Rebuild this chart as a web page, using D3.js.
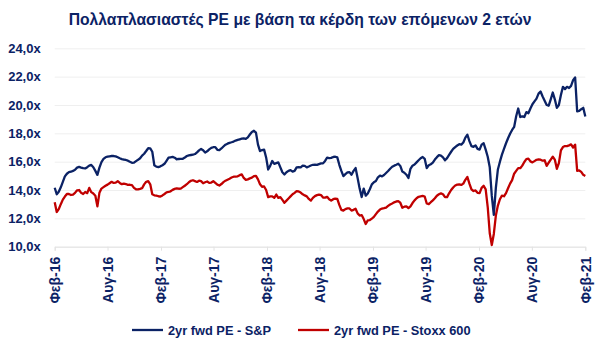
<!DOCTYPE html>
<html>
<head>
<meta charset="utf-8">
<script src="https://cdn.jsdelivr.net/npm/d3@7"></script>
<style>
  html, body { margin: 0; padding: 0; background: #ffffff; }
  svg { display: block; font-family: "Liberation Sans", Arial, sans-serif; }
</style>
</head>
<body>
<svg id="chart" width="600" height="344"></svg>
<script>
// Weekly 2-year forward P/E multiples, one value per Friday starting 5 Feb 2016
const firstWeek = "2016-02-05";

const spPE = [
  14.16, 13.70, 13.88, 14.19, 14.57, 14.96, 15.15, 15.26, 15.29, 15.35,
  15.43, 15.58, 15.63, 15.58, 15.54, 15.52, 15.61, 15.72, 15.77, 15.61,
  15.35, 15.07, 15.58, 15.97, 16.19, 16.31, 16.36, 16.38, 16.40, 16.40,
  16.37, 16.31, 16.24, 16.18, 16.15, 16.12, 16.07, 15.99, 15.92, 15.93,
  16.04, 16.13, 16.24, 16.43, 16.56, 16.75, 16.95, 16.94, 16.70, 15.75,
  15.65, 15.62, 15.67, 15.75, 15.85, 16.06, 16.28, 16.31, 16.34, 16.28,
  16.17, 16.19, 16.20, 16.20, 16.29, 16.40, 16.45, 16.47, 16.49, 16.54,
  16.66, 16.80, 16.90, 16.81, 16.64, 16.73, 16.87, 16.97, 17.02, 17.03,
  16.84, 16.81, 16.93, 17.07, 17.20, 17.27, 17.33, 17.37, 17.42, 17.49,
  17.54, 17.58, 17.62, 17.64, 17.61, 17.72, 17.92, 18.10, 18.18, 18.05,
  17.20, 16.75, 16.82, 16.85, 16.30, 15.45, 15.70, 16.05, 15.85, 15.90,
  15.95, 15.60, 15.25, 15.10, 15.25, 15.35, 15.40, 15.30, 15.35, 15.60,
  15.62, 15.60, 15.72, 15.70, 15.60, 15.66, 15.73, 15.78, 15.79, 15.77,
  15.83, 15.88, 15.88, 16.05, 16.28, 16.25, 16.27, 16.33, 16.35, 16.30,
  15.78, 15.35, 14.98, 15.12, 15.24, 15.26, 15.08, 15.35, 15.55, 14.85,
  14.10, 13.50, 14.10, 13.60, 13.75, 14.05, 14.40, 14.55, 14.64, 14.90,
  15.02, 14.96, 15.06, 15.20, 15.34, 15.50, 15.64, 15.72, 15.78, 15.85,
  15.70, 15.30, 15.22, 15.08, 14.85, 15.50, 15.72, 15.80, 15.95, 16.10,
  16.24, 16.33, 16.20, 15.55, 15.75, 15.82, 15.93, 16.15, 16.32, 16.46,
  16.42, 16.30, 16.10, 16.25, 16.48, 16.70, 16.90, 17.03, 17.14, 17.23,
  17.20, 17.35, 17.70, 17.90, 17.45, 17.10, 17.05, 17.15, 16.90, 16.85,
  17.20, 17.30, 16.85, 16.35, 15.60, 13.60, 12.25, 14.15, 15.45, 16.00,
  16.50, 16.90, 17.30, 17.65, 17.97, 18.24, 18.45, 19.20, 19.75, 19.15,
  19.20, 19.15, 19.50, 19.42, 19.75, 20.05, 20.25, 20.45, 20.80, 20.95,
  20.60, 20.30, 20.00, 19.95, 20.40, 20.88, 20.40, 19.80, 20.00, 20.70,
  21.28, 21.12, 21.28, 21.20, 21.35, 21.75, 21.95, 19.55, 19.58, 19.70,
  19.80, 19.18
];

const stoxxPE = [
  13.13, 12.45, 12.65, 13.00, 13.32, 13.54, 13.72, 13.72, 13.65, 13.68,
  13.80, 13.98, 14.00, 13.80, 13.72, 13.86, 13.78, 14.15, 13.85, 13.75,
  13.60, 12.85, 13.80, 14.10, 14.20, 14.30, 14.38, 14.48, 14.58, 14.50,
  14.52, 14.62, 14.50, 14.41, 14.45, 14.42, 14.36, 14.37, 14.35, 14.15,
  14.05, 14.05, 14.08, 14.13, 14.40, 14.58, 14.62, 14.40, 13.70, 13.63,
  13.60, 13.56, 13.54, 13.62, 13.72, 13.83, 13.86, 13.91, 14.01, 14.08,
  14.12, 14.09, 14.10, 14.20, 14.30, 14.41, 14.55, 14.65, 14.69, 14.63,
  14.57, 14.66, 14.63, 14.48, 14.55, 14.60, 14.50, 14.53, 14.62, 14.50,
  14.38, 14.32, 14.42, 14.56, 14.66, 14.73, 14.80, 14.88, 14.94, 14.94,
  14.97, 15.05, 15.10, 14.85, 14.72, 14.75, 14.82, 14.87, 14.98, 15.00,
  14.75, 14.40, 14.23, 14.25, 14.00, 13.50, 13.55, 13.55, 13.45, 13.68,
  13.45, 13.50, 13.30, 13.10, 13.25, 13.40, 13.55, 13.70, 13.80, 13.92,
  13.90, 13.82, 13.70, 13.62, 13.55, 13.37, 13.25, 13.45, 13.57, 13.64,
  13.68, 13.64, 13.47, 13.46, 13.52, 13.35, 13.25, 13.35, 13.39, 13.38,
  12.95, 12.60, 12.55, 12.65, 12.70, 12.70, 12.55, 12.60, 12.68, 12.35,
  12.20, 12.23, 11.95, 11.60, 11.86, 11.88, 11.98, 12.10, 12.30, 12.48,
  12.62, 12.69, 12.72, 12.76, 12.88, 12.98, 13.05, 13.13, 13.19, 13.21,
  13.10, 12.75, 12.82, 12.85, 12.72, 12.85, 13.08, 13.27, 13.42, 13.52,
  13.55, 13.58, 13.54, 13.05, 13.00, 13.14, 13.27, 13.42, 13.60, 13.70,
  13.76, 13.70, 13.50, 13.50, 13.77, 14.00, 14.18, 14.32, 14.38, 14.40,
  14.36, 14.45, 14.72, 14.92, 14.45, 14.05, 13.93, 13.97, 13.80, 13.78,
  14.15, 14.30, 14.05, 12.80, 10.95, 10.12, 10.90, 12.20, 12.90, 13.35,
  13.60, 13.56, 13.78, 14.12, 14.45, 14.70, 15.15, 15.35, 15.55, 15.54,
  15.72, 15.98, 16.18, 16.22, 16.02, 15.95, 16.04, 16.13, 16.16, 16.14,
  16.07, 16.10, 15.70, 15.93, 16.15, 16.35, 16.15, 15.50, 15.90, 16.80,
  17.03, 17.10, 17.10, 17.15, 17.22, 17.00, 17.20, 15.35, 15.38, 15.28,
  15.07, 14.99
];

const tickDates = [
  "2016-02-05", "2016-08-05", "2017-02-05", "2017-08-05", "2018-02-05", "2018-08-05",
  "2019-02-05", "2019-08-05", "2020-02-05", "2020-08-05", "2021-02-05"
];
const tickLabels = [
  "Φεβ-16", "Αυγ-16", "Φεβ-17", "Αυγ-17", "Φεβ-18", "Αυγ-18",
  "Φεβ-19", "Αυγ-19", "Φεβ-20", "Αυγ-20", "Φεβ-21"
];
const yTicks = [10, 12, 14, 16, 18, 20, 22, 24];

const seriesNames = ["2yr fwd PE - S&P", "2yr fwd PE - Stoxx 600"];
const seriesColors = ["#0b2265", "#c00000"];
const titleText = "Πολλαπλασιαστές PE με βάση τα κέρδη των επόμενων 2 ετών";

const parseDate = d3.utcParse("%Y-%m-%d");
const start = parseDate(firstWeek);
const weeks = spPE.map((_, i) => d3.utcWeek.offset(start, i));

const svg = d3.select("#chart");
const W = 600, H = 344;
const plot = { left: 54.7, right: 585.3, top: 48.3, bottom: 246.7 };
const navy = "#0b2265";

svg.append("rect").attr("width", W).attr("height", H).attr("fill", "#fff");

const x = d3.scaleUtc()
  .domain([parseDate(tickDates[0]), parseDate(tickDates[tickDates.length - 1])])
  .range([plot.left, plot.right]);
const y = d3.scaleLinear().domain([10, 24]).range([plot.bottom, plot.top]);

// horizontal gridlines
svg.append("g")
  .attr("transform", `translate(${plot.left},0)`)
  .call(d3.axisLeft(y).tickValues(yTicks).tickSize(-(plot.right - plot.left)).tickFormat(""))
  .call(g => g.select(".domain").remove())
  .call(g => g.selectAll("line").attr("stroke", "#efefef").attr("stroke-width", 1));

// y labels
svg.append("g")
  .attr("transform", `translate(${plot.left},0)`)
  .call(d3.axisLeft(y).tickValues(yTicks).tickSize(0).tickPadding(14)
    .tickFormat(d => d.toFixed(1).replace(".", ",") + "x"))
  .call(g => g.select(".domain").remove())
  .call(g => g.selectAll("text")
    .attr("fill", navy).attr("font-size", 13).attr("font-weight", "bold")
    .attr("font-family", "Liberation Sans, Arial, sans-serif"));

// x axis
svg.append("g")
  .attr("transform", `translate(0,${plot.bottom})`)
  .call(d3.axisBottom(x).tickValues(tickDates.map(parseDate)).tickSize(4)
    .tickFormat((d, i) => tickLabels[i]))
  .call(g => g.select(".domain").attr("stroke", "#e3e3e3"))
  .call(g => g.selectAll(".tick line").attr("stroke", "#e3e3e3"))
  .call(g => g.selectAll("text")
    .attr("fill", navy).attr("font-size", 14).attr("font-weight", "bold")
    .attr("font-family", "Liberation Sans, Arial, sans-serif")
    .attr("text-anchor", "end")
    .attr("dy", "0.35em")
    .attr("transform", "translate(0,10) rotate(-90)")
    .attr("x", 0).attr("y", 0));

// series lines
const line = d3.line().x((d, i) => x(weeks[i])).y(d => y(d));
[spPE, stoxxPE].forEach((vals, s) => {
  svg.append("path")
    .datum(vals)
    .attr("d", line)
    .attr("fill", "none")
    .attr("stroke", seriesColors[s])
    .attr("stroke-width", 2.3)
    .attr("stroke-linejoin", "round");
});

// title
svg.append("text")
  .attr("x", 300).attr("y", 25)
  .attr("text-anchor", "middle")
  .attr("fill", navy)
  .attr("font-size", 15.7).attr("font-weight", "bold")
  .text(titleText);

// legend
const legendX = [132, 298];
seriesNames.forEach((name, s) => {
  const g = svg.append("g").attr("transform", `translate(${legendX[s]},330)`);
  g.append("line").attr("x1", 0).attr("x2", 31).attr("y1", 0).attr("y2", 0)
    .attr("stroke", seriesColors[s]).attr("stroke-width", 2.3);
  g.append("text").attr("x", 36).attr("y", 4.5)
    .attr("fill", navy).attr("font-size", 12.8).attr("font-weight", "bold")
    .text(name);
});
</script>
</body>
</html>
